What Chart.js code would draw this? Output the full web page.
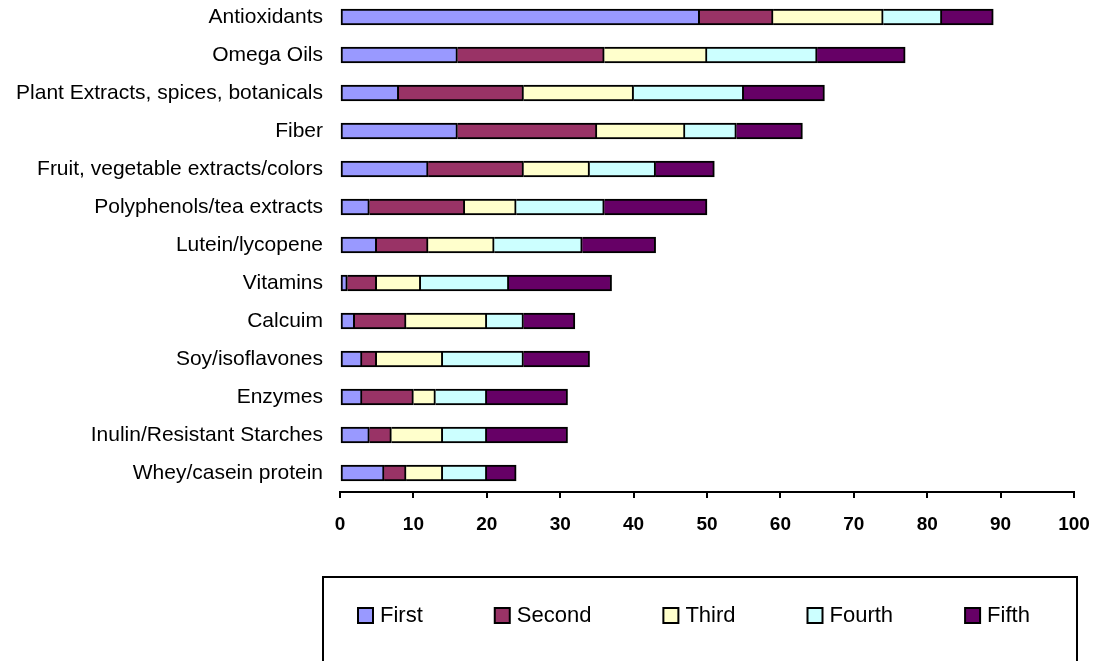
<!DOCTYPE html>
<html>
<head>
<meta charset="utf-8">
<script src="https://cdn.jsdelivr.net/npm/chart.js@4/dist/chart.umd.min.js"></script>
<style>
html,body{margin:0;padding:0;background:#fff;overflow:hidden;}
#wrap{width:1097px;height:661px;position:relative;overflow:hidden;}
#c{position:absolute;left:0;top:-2px;}
</style>
</head>
<body>
<div id="wrap"><canvas id="c" width="1097" height="663"></canvas></div>
<script>
const categories = ["Antioxidants","Omega Oils","Plant Extracts, spices, botanicals","Fiber","Fruit, vegetable extracts/colors","Polyphenols/tea extracts","Lutein/lycopene","Vitamins","Calcuim","Soy/isoflavones","Enzymes","Inulin/Resistant Starches","Whey/casein protein"];
const seriesNames = ["First","Second","Third","Fourth","Fifth"];
const first  = [49,16,8,16,12,4,5,1,2,3,3,4,6];
const second = [10,20,17,19,13,13,7,4,7,2,7,3,3];
const third  = [15,14,15,12,9,7,9,6,11,9,3,7,5];
const fourth = [8,15,15,7,9,12,12,12,5,11,7,6,6];
const fifth  = [7,12,11,9,8,14,10,14,7,9,11,11,4];
const xTicks = [0,10,20,30,40,50,60,70,80,90,100];
const colors = ["#9999FF","#993366","#FFFFCC","#CCFFFF","#660066"];

const FONT = "'Liberation Sans', Arial, sans-serif";
const seriesValues = [first, second, third, fourth, fifth];
const datasets = seriesValues.map((vals, i) => ({
  label: seriesNames[i],
  data: vals,
  backgroundColor: colors[i],
  borderColor: "#000",
  borderWidth: 2,
  borderSkipped: i === 0 ? false : "left",
  barThickness: 16
}));

// canvas is shifted up by 2px; page y = canvas y - 2
const legendBox = {
  id: "legendBox",
  afterDraw(chart) {
    const ctx = chart.ctx;
    const dy = 2;
    ctx.save();
    ctx.strokeStyle = "#000";
    ctx.lineWidth = 2;
    ctx.strokeRect(323, 577 + dy, 754, 100);
    ctx.font = "22px " + FONT;
    ctx.textBaseline = "middle";
    ctx.textAlign = "left";
    let x = 358;
    seriesNames.forEach((n, i) => {
      ctx.fillStyle = colors[i];
      ctx.fillRect(x, 608 + dy, 15, 15);
      ctx.lineWidth = 2;
      ctx.strokeStyle = "#000";
      ctx.strokeRect(x, 608 + dy, 15, 15);
      ctx.fillStyle = "#000";
      ctx.fillText(n, x + 22, 616 + dy);
      x += 22 + ctx.measureText(n).width + 72;
    });
    ctx.restore();
  }
};

new Chart(document.getElementById("c"), {
  type: "bar",
  data: { labels: categories, datasets },
  options: {
    indexAxis: "y",
    responsive: false,
    animation: false,
    events: [],
    layout: { padding: { top: 0, left: 0, right: 23, bottom: 123 } },
    plugins: { legend: { display: false }, tooltip: { enabled: false } },
    scales: {
      x: {
        stacked: true,
        min: 0, max: 100,
        afterBuildTicks(scale) { scale.ticks = xTicks.map(v => ({ value: v })); },
        afterFit(scale) { scale.height = 46; scale.paddingLeft = 0; scale.paddingRight = 0; },
        border: { display: true, color: "#000", width: 2 },
        grid: { display: true, drawOnChartArea: false, drawTicks: true, tickLength: 6, color: "#000", lineWidth: 2 },
        ticks: { color: "#000", padding: 15, font: { family: FONT, size: 19, weight: "bold" }, maxRotation: 0 }
      },
      y: {
        stacked: true,
        afterFit(scale) { scale.width = 340; scale.paddingTop = 0; scale.paddingBottom = 0; },
        border: { display: false },
        grid: { display: false, drawTicks: false },
        ticks: { color: "#000", padding: 17, font: { family: FONT, size: 21 }, autoSkip: false }
      }
    }
  },
  plugins: [legendBox]
});
</script>
</body>
</html>
